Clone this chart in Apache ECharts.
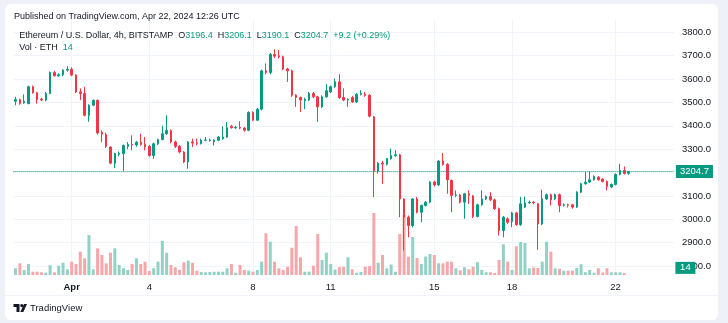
<!DOCTYPE html>
<html><head><meta charset="utf-8">
<script src="https://cdn.jsdelivr.net/npm/echarts@6/dist/echarts.min.js"></script>
<style>
html,body{margin:0;padding:0;background:#eef2f8;width:728px;height:323px;overflow:hidden;}
#card{position:absolute;left:5px;top:4px;width:713px;height:316px;background:#fff;border-radius:6px;}
#chart{position:absolute;left:0;top:0;width:728px;height:323px;}
</style></head><body>
<div id="card"></div><div id="chart"></div>
<script>
// ---- data (ETH/USD 4h, Bitstamp) ----
const openP = [3505,3512,3498,3495,3567,3541,3514,3510,3538,3628,3614,3618,3638,3642,3617,3545,3538,3445,3488,3509,
3372,3362,3309,3240,3278,3281,3312,3320,3318,3330,3320,3312,3273,3323,3341,3366,3380,3331,3312,3288,
3245,3331,3327,3324,3338,3337,3331,3338,3345,3352,3398,3392,3393,3390,3381,3457,3424,3471,3635,3628,
3705,3700,3695,3643,3635,3531,3521,3507,3510,3538,3524,3481,3524,3545,3567,3588,3521,3510,3521,3502,
3535,3535,3531,3438,3206,3240,3235,3259,3272,3276,3087,3009,2973,3087,3030,3059,3073,3159,3147,3249,
3235,3166,3102,3104,3073,3109,3100,3012,3062,3087,3097,3083,3045,2952,3002,2990,3027,2977,3052,3070,
3073,3066,2980,3087,3105,3087,3105,3059,3062,3062,3052,3116,3152,3159,3169,3180,3172,3162,3138,3149,
3192,3209,3196.4];
const highP = [3524,3516,3534,3572,3572,3545,3520,3545,3632,3635,3625,3642,3655,3650,3620,3560,3567,3492,3512,3512,
3380,3370,3312,3285,3290,3320,3330,3359,3335,3366,3352,3318,3328,3345,3400,3445,3385,3336,3318,3292,
3335,3345,3345,3345,3352,3345,3342,3356,3398,3416,3404,3400,3419,3395,3462,3462,3476,3640,3667,3712,
3727,3724,3700,3648,3640,3535,3525,3520,3545,3545,3528,3530,3578,3572,3602,3621,3560,3518,3528,3540,
3552,3545,3535,3442,3245,3250,3262,3302,3295,3280,3090,3016,3090,3095,3063,3078,3163,3165,3253,3283,
3240,3170,3123,3108,3113,3123,3104,3066,3123,3102,3116,3088,3050,3014,3008,3032,3032,3095,3097,3080,
3078,3070,3126,3110,3110,3110,3110,3068,3066,3066,3120,3156,3202,3206,3188,3185,3176,3166,3153,3196,
3237,3226,3206.1];
const lowP = [3488,3490,3494,3492,3538,3495,3505,3505,3535,3610,3610,3612,3632,3612,3540,3510,3440,3417,3484,3362,
3330,3305,3236,3219,3270,3206,3300,3295,3310,3315,3295,3268,3259,3318,3338,3360,3325,3305,3282,3240,
3216,3309,3316,3320,3334,3332,3316,3334,3340,3348,3388,3386,3385,3375,3377,3420,3420,3466,3620,3620,
3690,3688,3638,3588,3524,3481,3459,3471,3505,3518,3417,3476,3520,3540,3562,3515,3505,3481,3498,3498,
3530,3524,3436,3095,3195,3152,3230,3255,3268,3009,2866,2923,2965,3025,2987,3055,3068,3140,3143,3230,
3109,3030,3095,3068,3002,3066,3005,3008,3058,3082,3078,3040,2930,2923,2980,2966,2972,2972,3048,3066,
3064,2869,2975,3082,3059,3082,3030,3054,3050,3045,3048,3112,3148,3155,3165,3165,3158,3123,3133,3145,
3188,3192,3190.1];
const closeP = [3512,3495,3505,3567,3541,3512,3510,3538,3628,3614,3618,3638,3642,3617,3545,3538,3445,3488,3509,3369,
3364,3312,3240,3281,3282,3316,3320,3318,3330,3320,3310,3273,3323,3341,3366,3380,3331,3312,3288,3245,
3331,3326,3325,3338,3339,3339,3338,3352,3352,3392,3392,3393,3390,3381,3457,3424,3471,3635,3628,3705,
3698,3695,3643,3635,3531,3521,3510,3514,3538,3524,3481,3524,3550,3567,3588,3521,3510,3513,3502,3535,
3538,3530,3441,3206,3240,3236,3259,3273,3276,3087,3009,2973,3087,3030,3059,3073,3159,3147,3249,3235,
3169,3102,3104,3073,3109,3103,3012,3062,3087,3097,3083,3045,2952,3009,2987,3027,2977,3066,3070,3073,
3070,2980,3087,3105,3083,3105,3059,3062,3060,3052,3116,3152,3159,3169,3183,3169,3162,3140,3149,3192,
3209,3195.5,3204.7];
const volumeEth = [670,1170,500,1100,330,330,270,230,970,270,930,1230,570,1330,1100,2330,1670,4000,570,2670,
2000,1170,2230,2670,1000,670,500,1100,1670,1100,1330,400,670,1330,3400,2230,1000,770,500,1270,
1430,1230,430,300,270,300,330,330,330,670,1100,230,1000,500,430,330,500,1330,4170,3330,
1330,670,500,830,2730,4900,1770,330,330,930,4100,1500,2230,1100,550,780,830,1770,570,230,
300,830,900,6200,1230,2000,670,1050,330,4100,6000,1830,3800,1700,1100,1850,2100,2000,1170,1170,
1330,1330,670,470,770,570,830,1280,500,280,270,200,1500,3070,1330,500,2870,3300,3200,670,
750,700,1330,3330,2330,670,620,430,430,430,700,1080,280,500,230,670,250,670,270,270,
270,200,14];
const tickDates = ['2024-04-01 00:00','2024-04-04 00:00','2024-04-08 00:00','2024-04-11 00:00','2024-04-15 00:00','2024-04-18 00:00','2024-04-22 00:00'];
const tickTexts = ['Apr','4','8','11','15','18','22'];
const priceTicks = [2800,2900,3000,3100,3200,3300,3400,3500,3600,3700,3800];

// ---- categories: 4h candles from Mar 29 20:00 UTC, plus empty future slots ----
const startUTC = Date.UTC(2024, 2, 29, 20, 0);
const stepMs = 4 * 3600 * 1000;
const futureSlots = 10;
const pad = n => String(n).padStart(2, '0');
const categories = [];
for (let i = 0; i < openP.length + futureSlots; i++) {
  const d = new Date(startUTC + i * stepMs);
  categories.push(d.getUTCFullYear() + '-' + pad(d.getUTCMonth() + 1) + '-' + pad(d.getUTCDate()) + ' ' + pad(d.getUTCHours()) + ':00');
}
const tickMap = {};
tickDates.forEach((d, k) => tickMap[d] = tickTexts[k]);

const UP = '#089981', DOWN = '#F23645';
const VUP = '#92d2c6', VDOWN = '#f7a7aa';
const candleData = openP.map((o, i) => [o, closeP[i], lowP[i], highP[i]]);
const volData = volumeEth.map((v, i) => ({ value: v, itemStyle: { color: closeP[i] >= openP[i] ? VUP : VDOWN } }));

const n = openP.length - 1;
const lastO = openP[n], lastH = highP[n], lastL = lowP[n], lastC = closeP[n];
const chg = lastC - closeP[n - 1];
const chgPct = chg / closeP[n - 1] * 100;
const lastVol = volumeEth[n];

// layout
const W = 728, H = 323;
const GL = 13.4, GR = 54.1;
const VOL_TOP = 20, VOL_BOTTOM = 48, VOL_MAX = 25500;
const volBaseY = H - VOL_BOTTOM;
const volY = volBaseY - lastVol / VOL_MAX * (H - VOL_TOP - VOL_BOTTOM);
const plotRight = W - GR;

const FONT = 'Liberation Sans, Arial, sans-serif';
const isTick = (idx, val) => tickMap.hasOwnProperty(val);
const txt = (size, color, extra) => Object.assign({ fontSize: size, color: color, fontFamily: FONT, fontWeight: 'normal' }, extra || {});

const chart = echarts.init(document.getElementById('chart'), null, { renderer: 'canvas' });
chart.setOption({
  animation: false,
  backgroundColor: 'transparent',
  textStyle: { fontFamily: FONT },
  title: [
    { text: 'Published on TradingView.com, Apr 22, 2024 12:26 UTC', left: 14, top: 12, padding: 0,
      textStyle: txt(9, '#131722') },
    { text: '{n|Ethereum / U.S. Dollar, 4h, BITSTAMP}  {k|O}{v|' + lastO.toFixed(1) + '}  {k|H}{v|' + lastH.toFixed(1) +
            '}  {k|L}{v|' + lastL.toFixed(1) + '}  {k|C}{v|' + lastC.toFixed(1) + '}  {v|' + (chg >= 0 ? '+' : '') + chg.toFixed(1) +
            ' (' + (chgPct >= 0 ? '+' : '') + chgPct.toFixed(2) + '%)}',
      left: 19.3, top: 31.5, padding: 0,
      textStyle: txt(9, '#131722', { rich: { n: txt(9, '#131722'), k: txt(9, '#131722'), v: txt(9, UP) } }) },
    { text: '{n|Vol · ETH}  {v|' + lastVol + '}', left: 19.3, top: 43.5, padding: 0,
      textStyle: txt(9, '#131722', { rich: { n: txt(9, '#131722'), v: txt(9, UP) } }) }
  ],
  grid: [
    { left: GL, right: GR, top: 32.3, bottom: 57 },
    { left: GL, right: GR, top: VOL_TOP, bottom: VOL_BOTTOM }
  ],
  xAxis: [
    { type: 'category', gridIndex: 0, data: categories, boundaryGap: true,
      axisLine: { show: false }, axisTick: { show: false }, axisLabel: { show: false }, splitLine: { show: false } },
    { type: 'category', gridIndex: 1, data: categories, boundaryGap: true,
      axisLine: { show: false }, axisTick: { show: false, alignWithLabel: true },
      axisLabel: { interval: isTick, formatter: v => tickMap[v] === 'Apr' ? '{b|Apr}' : tickMap[v],
        color: '#131722', fontSize: 9.5, margin: 7, fontFamily: FONT,
        rich: { b: { fontWeight: 'bold', fontSize: 9.5, color: '#131722', fontFamily: FONT } } },
      splitLine: { show: true, interval: isTick, alignWithLabel: true, lineStyle: { color: '#f0f3fa', width: 1 } } }
  ],
  yAxis: [
    { type: 'value', gridIndex: 0, position: 'right', min: priceTicks[0], max: priceTicks[priceTicks.length - 1], interval: priceTicks[1] - priceTicks[0],
      axisLine: { show: false }, axisTick: { show: false },
      axisLabel: { formatter: v => v.toFixed(1), color: '#131722', fontSize: 9.5, margin: 8, fontFamily: FONT },
      splitLine: { lineStyle: { color: '#f0f3fa', width: 1 } } },
    { type: 'value', gridIndex: 1, min: 0, max: VOL_MAX, show: false, splitLine: { show: false } }
  ],
  series: [
    { type: 'bar', xAxisIndex: 1, yAxisIndex: 1, data: volData, barWidth: 3, z: 1,
      markLine: { silent: true, symbol: ['none', 'none'], data: [{ yAxis: lastVol }],
        lineStyle: { opacity: 0 },
        label: { position: 'end', distance: 2, formatter: String(lastVol), color: '#fff', backgroundColor: UP,
          padding: [2, 5, 1, 5], fontSize: 9.5, offset: [0, -6], fontFamily: FONT } } },
    { type: 'candlestick', xAxisIndex: 0, yAxisIndex: 0, data: candleData, barWidth: 2, z: 3,
      itemStyle: { color: UP, color0: DOWN, borderColor: UP, borderColor0: DOWN, borderWidth: 1 },
      markLine: { silent: true, symbol: ['none', 'none'], data: [{ yAxis: lastC }],
        lineStyle: { type: 'dotted', color: UP, width: 1 },
        label: { position: 'end', distance: 2, formatter: lastC.toFixed(1), color: '#fff', backgroundColor: UP,
          padding: [2, 4, 1, 4], fontSize: 9.5, fontFamily: FONT } } }
  ],
  graphic: [
    { type: 'line', shape: { x1: 5, y1: 295.5, x2: 718, y2: 295.5 }, style: { stroke: '#f0f3fa', lineWidth: 1 } },
    { type: 'group', left: 13.5, top: 304, children: [
      { type: 'polygon', shape: { points: [[0,0],[6,0],[6,8],[3,8],[3,3],[0,3]] }, style: { fill: '#131722' } },
      { type: 'circle', shape: { cx: 8.3, cy: 1.6, r: 1.6 }, style: { fill: '#131722' } },
      { type: 'polygon', shape: { points: [[10.5,0],[13.5,0],[9.8,8],[6.8,8]] }, style: { fill: '#131722' } }
    ] },
    { type: 'text', left: 30, top: 303, style: { text: 'TradingView', fontSize: 9.5, fill: '#131722', fontFamily: FONT, fontWeight: 500 } },
    { type: 'rect', z: 100, shape: { x: plotRight + 1.5, y: volY - 13, width: 20, height: 12 }, style: { fill: UP } },
    { type: 'text', z: 101, style: { x: plotRight + 11.5, y: volY - 7, text: String(lastVol), fill: '#fff',
      fontSize: 9.5, fontFamily: FONT, align: 'center', verticalAlign: 'middle' } }
  ]
});
</script></body></html>
